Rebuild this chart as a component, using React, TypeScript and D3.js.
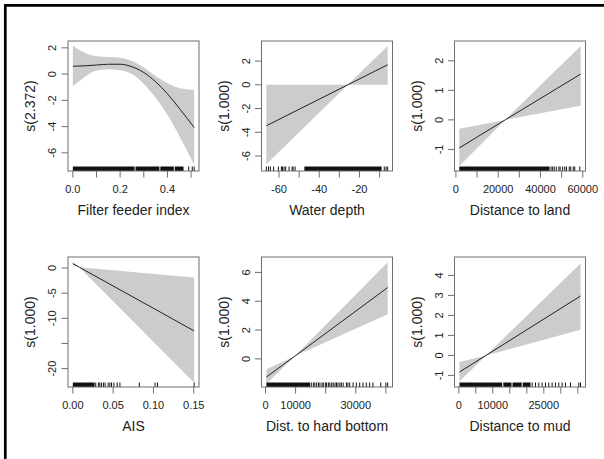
import React from "react";
import * as d3 from "d3";

// ---------- data ----------
const xLabels = ["Filter feeder index", "Water depth", "Distance to land", "AIS", "Dist. to hard bottom", "Distance to mud"];
const yLabels = ["s(2.372)", "s(1.000)", "s(1.000)", "s(1.000)", "s(1.000)", "s(1.000)"];

// axis limits
const xLims = [[-0.0205, 0.5335], [-68.7, -3.6], [-660, 61300], [-0.006, 0.1565], [-1333, 42200], [-1265, 37265]];
const yLims = [[-7.38, 2.52], [-7.26, 3.69], [-1.73, 2.67], [-23.66, 2.2], [-1.95, 7.07], [-1.58, 4.92]];

// ticks
const xTicks = [
  [0, 0.1, 0.2, 0.3, 0.4, 0.5],
  [-60, -50, -40, -30, -20, -10],
  [0, 10000, 20000, 30000, 40000, 50000, 60000],
  [0, 0.05, 0.1, 0.15],
  [0, 10000, 20000, 30000, 40000],
  [0, 5000, 10000, 15000, 20000, 25000, 30000, 35000],
];
const xTickLabels = [
  ["0.0", "0.2", "0.4"],
  ["-60", "-40", "-20"],
  ["0", "20000", "40000", "60000"],
  ["0.00", "0.05", "0.10", "0.15"],
  ["0", "10000", "30000"],
  ["0", "10000", "25000"],
];
const yTicks = [
  [-6, -4, -2, 0, 2],
  [-6, -4, -2, 0, 2],
  [-1, 0, 1, 2],
  [-20, -15, -10, -5, 0],
  [0, 2, 4, 6],
  [-1, 0, 1, 2, 3, 4],
];
const yTickLabels = [
  ["-6", "-4", "-2", "0", "2"],
  ["-6", "-4", "-2", "0", "2"],
  ["-1", "0", "1", "2"],
  ["-20", "-10", "-5", "0"],
  ["0", "2", "4", "6"],
  ["-1", "0", "1", "2", "3", "4"],
];

// smooth term estimates
const ffX = [0, 0.05, 0.1, 0.15, 0.2, 0.25, 0.3, 0.35, 0.4, 0.45, 0.513];
const ffFit = [0.6, 0.63, 0.69, 0.75, 0.75, 0.56, 0.12, -0.58, -1.5, -2.6, -4.07];
const ffUp = [2.15, 1.62, 1.36, 1.3, 1.25, 1.0, 0.5, -0.15, -0.7, -1.05, -1.2];
const ffLo = [-0.95, -0.22, 0.28, 0.36, 0.3, 0.0, -0.75, -1.8, -3.1, -4.7, -6.9];

const wdX = [-66.3, -25.8, -6.0];
const wdFit = [-3.45, 0, 1.69];
const wdUp = [0, 0, 3.27];
const wdLo = [-6.7, 0, 0];

const dlX = [1600, 23300, 59000];
const dlFit = [-0.95, 0, 1.55];
const dlUp = [-0.3, 0, 2.5];
const dlLo = [-1.56, 0, 0.48];

const aisX = [0, 0.008, 0.1505];
const aisFit = [0.88, 0.17, -12.5];
const aisUp = [1.15, 0.17, -1.9];
const aisLo = [0.6, 0.17, -22.8];

const hbX = [300, 9800, 40600];
const hbFit = [-1.26, 0.2, 4.95];
const hbUp = [-0.72, 0.2, 6.7];
const hbLo = [-1.72, 0.2, 3.1];

const mudX = [200, 8000, 35800];
const mudFit = [-0.83, 0, 2.97];
const mudUp = [-0.33, 0, 4.6];
const mudLo = [-1.3, 0, 1.28];

// rugs: dense stretches (solid) and single observations
const ffRugBands = [[0, 0.261], [0.265, 0.366], [0.37, 0.427], [0.431, 0.468]];
const ffRugTicks = [0.49, 0.505, 0.513];
const wdRugBands = [[-47.4, -9.0]];
const wdRugTicks = [-66.3, -65.2, -64.3, -62.7, -60.3, -58.8, -58.3, -57.5, -56.7, -55.0, -53.5, -53.0, -52.0, -7.7, -6.8, -6.0];
const dlRugBands = [[1600, 44300]];
const dlRugTicks = [45000, 45800, 46500, 47500, 48700, 49300, 50500, 51500, 52300, 53600, 54300, 55500, 56200, 58600];
const aisRugBands = [[0, 0.027]];
const aisRugTicks = [0.0284, 0.0317, 0.0335, 0.0355, 0.038, 0.04, 0.0438, 0.046, 0.048, 0.0509, 0.055, 0.0584, 0.0825, 0.102, 0.105, 0.1505];
const hbRugBands = [[300, 14800]];
const hbRugTicks = [15200, 15900, 16400, 17000, 17600, 18100, 18800, 19200, 19900, 20300, 20900, 21400, 22000, 22500, 23100, 23600, 24100, 24700, 25200, 25800, 26900, 27400, 28000, 29100, 30200, 31300, 32400, 33500, 34600, 35700, 38300, 40000, 40600];
const mudRugBands = [[200, 12760], [13100, 15500], [15800, 18500], [18800, 21100]];
const mudRugTicks = [21590, 22560, 23530, 24500, 25500, 26470, 27450, 28430, 29410, 30390, 31380, 32850, 35300, 35800];

const curveXs = [ffX, wdX, dlX, aisX, hbX, mudX];
const curveFits = [ffFit, wdFit, dlFit, aisFit, hbFit, mudFit];
const curveUps = [ffUp, wdUp, dlUp, aisUp, hbUp, mudUp];
const curveLos = [ffLo, wdLo, dlLo, aisLo, hbLo, mudLo];
const rugBands = [ffRugBands, wdRugBands, dlRugBands, aisRugBands, hbRugBands, mudRugBands];
const rugTicks = [ffRugTicks, wdRugTicks, dlRugTicks, aisRugTicks, hbRugTicks, mudRugTicks];

// ---------- layout ----------
const W = 604;
const H = 459;
const colLeft = [68, 261.5, 454.5];
const rowTop = [41, 257];
const BW = 131;
const BH = 130;
const FONT = "'Liberation Sans', Arial, Helvetica, sans-serif";
const TEXT = "#222";
const AXIS = "#6e6e6e";
const SHADE = "#cccccc";

function Panel({ i }: { i: number }) {
  const left = colLeft[i % 3];
  const top = rowTop[Math.floor(i / 3)];
  const bottom = top + BH;
  const x = d3.scaleLinear().domain(xLims[i]).range([left, left + BW]);
  const y = d3.scaleLinear().domain(yLims[i]).range([bottom, top]);
  const xs = curveXs[i];
  const curve = i === 0 ? d3.curveMonotoneX : d3.curveLinear;
  const area = d3
    .area<number>()
    .x((_, k) => x(xs[k]))
    .y0((_, k) => y(curveLos[i][k]))
    .y1((_, k) => y(curveUps[i][k]))
    .curve(curve);
  const line = d3
    .line<number>()
    .x((_, k) => x(xs[k]))
    .y((_, k) => y(curveFits[i][k]))
    .curve(curve);
  const rugLen = 4.5;
  const tickLen = 6.5;
  const labeledX = xTickLabels[i].map(Number);
  const labeledY = yTickLabels[i].map(Number);
  return (
    <g>
      <path d={area(curveFits[i]) || ""} fill={SHADE} stroke="none" />
      <path d={line(curveFits[i]) || ""} fill="none" stroke="#222" strokeWidth={1} />
      {rugBands[i].map((b, k) => (
        <rect key={"b" + k} x={x(b[0])} y={bottom - rugLen} width={x(b[1]) - x(b[0])} height={rugLen} fill="#111" />
      ))}
      {rugTicks[i].map((v, k) => (
        <line key={"t" + k} x1={x(v)} x2={x(v)} y1={bottom - rugLen} y2={bottom} stroke="#111" strokeWidth={1} />
      ))}
      <rect x={left} y={top} width={BW} height={BH} fill="none" stroke={AXIS} strokeWidth={1} />
      {xTicks[i].map((v, k) => (
        <line key={"xt" + k} x1={x(v)} x2={x(v)} y1={bottom} y2={bottom + tickLen} stroke={AXIS} strokeWidth={1} />
      ))}
      {yTicks[i].map((v, k) => (
        <line key={"yt" + k} x1={left - tickLen} x2={left} y1={y(v)} y2={y(v)} stroke={AXIS} strokeWidth={1} />
      ))}
      {xTickLabels[i].map((s, k) => (
        <text key={"xl" + k} x={x(labeledX[k])} y={bottom + 22} fontSize={11} textAnchor="middle" fill={TEXT} fontFamily={FONT}>
          {s}
        </text>
      ))}
      {yTickLabels[i].map((s, k) => (
        <text
          key={"yl" + k}
          transform={`translate(${left - 12},${y(labeledY[k])}) rotate(-90)`}
          fontSize={11}
          textAnchor="middle"
          fill={TEXT}
          fontFamily={FONT}
        >
          {s}
        </text>
      ))}
      <text x={left + BW / 2} y={bottom + 44} fontSize={14} textAnchor="middle" fill={TEXT} fontFamily={FONT}>
        {xLabels[i]}
      </text>
      <text
        transform={`translate(${left - 33},${top + BH / 2}) rotate(-90)`}
        fontSize={14}
        textAnchor="middle"
        fill={TEXT}
        fontFamily={FONT}
      >
        {yLabels[i]}
      </text>
    </g>
  );
}

export default function App() {
  return (
    <svg
      width={W}
      height={H}
      viewBox={`0 0 ${W} ${H}`}
      style={{ position: "absolute", left: 0, top: 0, background: "#fff" }}
    >
      <rect x={0} y={0} width={W} height={H} fill="#fff" />
      <path d={`M5.3,${H} V5.3 H${W}`} fill="none" stroke="#000" strokeWidth={2.7} />
      {[0, 1, 2, 3, 4, 5].map((i) => (
        <Panel key={i} i={i} />
      ))}
    </svg>
  );
}
